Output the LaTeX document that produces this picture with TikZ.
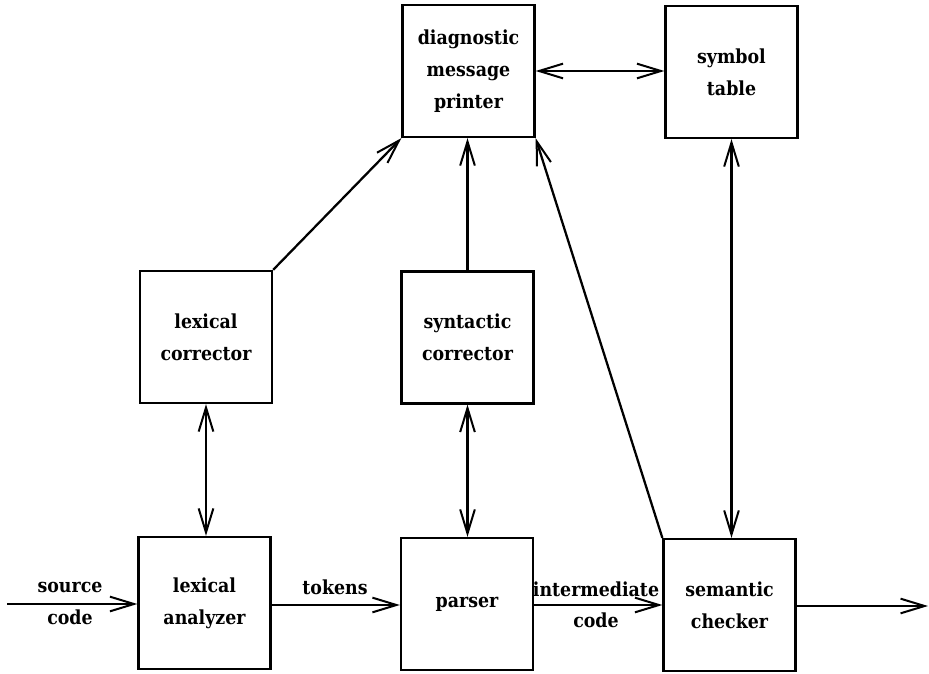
\documentclass[tikz,border=0pt]{standalone}
\usepackage{fontspec}
\setmainfont{DejaVu Serif Condensed}
\usetikzlibrary{arrows.meta}
\begin{document}
\begin{tikzpicture}[x=0.75pt,y=-0.75pt,
  box/.style={draw, line width=1.7pt, minimum width=99pt, minimum height=99pt, inner sep=0pt,
    align=center, font=\bfseries\fontsize{14.5pt}{24pt}\selectfont},
  lbl/.style={align=center, inner sep=0pt, font=\bfseries\fontsize{14.5pt}{24pt}\selectfont},
  conn/.style={line width=1.7pt},
  tip/.style={-{Straight Barb[length=18pt,width=11pt,line width=1.5pt]}},
  both/.style={{Straight Barb[length=18pt,width=11pt,line width=1.5pt]}-{Straight Barb[length=18pt,width=11pt,line width=1.5pt]}}
]
\useasboundingbox (0,0) rectangle (929,674);
\node[box] (diag) at (468.5,71) {diagnostic\\message\\printer};
\node[box] (sym) at (731.5,72) {symbol\\table};
\node[box] (lexcor) at (206,337) {lexical\\corrector};
\node[box] (syncor) at (467.5,337.5) {syntactic\\corrector};
\node[box] (lexan) at (204.5,603) {lexical\\analyzer};
\node[box] (parser) at (467,604) {parser};
\node[box] (sem) at (729.5,605) {semantic\\checker};
\coordinate (src) at (7,604);
\coordinate (out) at (928,606);
\node[lbl] (srclbl) at (70,603) {source\\code};
\node[lbl, anchor=base] (toklbl) at (335,594) {tokens};
\node[lbl, anchor=base] (intlbl) at (596,596) {intermediate};
\node[lbl, anchor=base] (codelbl) at (596,627) {code};

\draw[conn,tip] (src) -- (src -| lexan.west);
\draw[conn,tip] (lexan.east |- 0,605) -- (parser.west |- 0,605);
\draw[conn,tip] (parser.east |- 0,605) -- (sem.west |- 0,605);
\draw[conn,tip] (sem.east |- out) -- (out);
\draw[conn,both] (lexcor.south) -- (lexcor.south |- lexan.north);
\draw[conn,both] (syncor.south) -- (syncor.south |- parser.north);
\draw[conn,tip] (syncor.north) -- (syncor.north |- diag.south);
\draw[conn,tip] (lexcor.north east) -- (diag.south west);
\draw[conn,tip] (sem.north west) -- (diag.south east);
\draw[conn,both] (diag.east) -- (diag.east -| sym.west);
\draw[conn,both] (sym.south) -- (sym.south |- sem.north);
\end{tikzpicture}
\end{document}
